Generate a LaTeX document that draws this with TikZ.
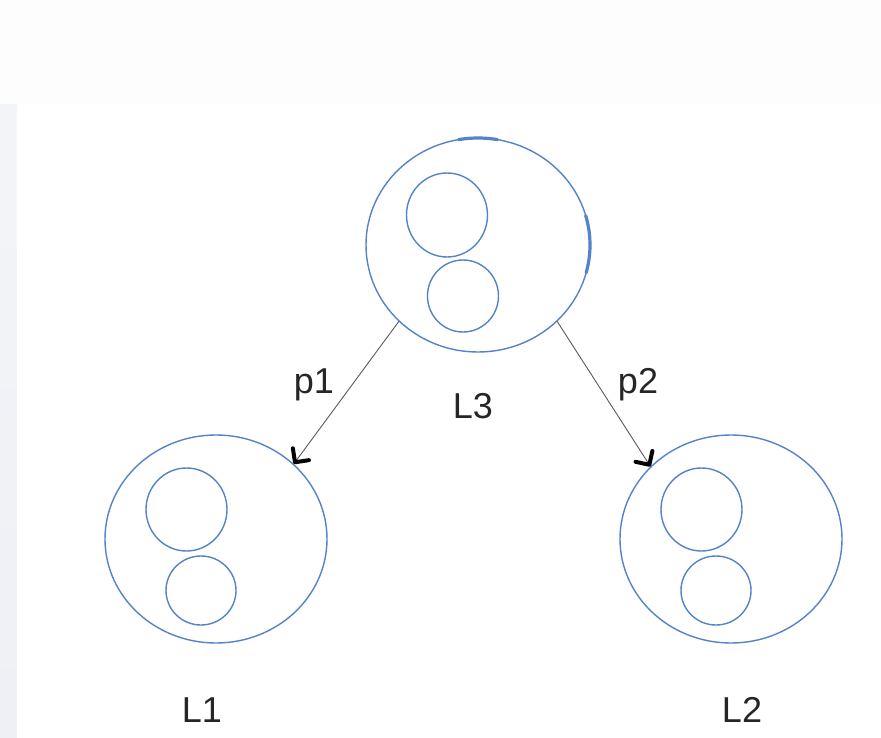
\documentclass[tikz,border=0pt]{standalone}
\usepackage{fontspec}
\setmainfont{Liberation Sans}
\usetikzlibrary{shapes.geometric,arrows.meta}
\definecolor{ringblue}{RGB}{84,132,200}
\definecolor{edgegrey}{RGB}{90,90,90}
\definecolor{sidegrey}{RGB}{238,240,245}
\definecolor{topgrey}{RGB}{253,253,254}
\tikzset{
  outer/.style={draw=ringblue, line width=1.4pt, ellipse, inner sep=0pt},
  inner/.style={draw=ringblue, line width=1.4pt, ellipse, inner sep=0pt},
  handle/.style={draw=ringblue, line width=3.2pt, line cap=round},
  link/.style={draw=edgegrey, line width=0.9pt, line cap=round,
    -{Straight Barb[color=black, length=10pt, width=20pt, line width=4pt, round]}},
  lbl/.style={font=\fontsize{36}{40}\selectfont, anchor=base, text=black!85, inner sep=0pt}
}
\begin{document}
\begin{tikzpicture}[x=1pt, y=-1pt]
  \useasboundingbox (0,0) rectangle (881,738);
  % page backdrop
  \fill[topgrey] (0,0) rectangle (881,105);
  \shade[top color=white!30!sidegrey, bottom color=sidegrey] (0,105) rectangle (17,738);
  \fill[white] (17,105) rectangle (881,738);

  % L3 group
  \node[outer, minimum width=224pt, minimum height=214pt] (L3) at (478,245) {};
  \node[inner, minimum width=81pt, minimum height=84pt] (L3a) at (447,215) {};
  \node[inner, minimum width=71pt, minimum height=72pt] (L3b) at (463,296) {};
  % thicker handle marks on the L3 ring
  \draw[handle, domain=-100:-80, smooth, variable=\t]
    plot ({478+112*cos(\t)}, {245+107*sin(\t)});
  \draw[handle, domain=-16:15, smooth, variable=\t]
    plot ({478+112*cos(\t)}, {245+107*sin(\t)});

  % L1 group
  \node[outer, minimum width=222pt, minimum height=208pt] (L1) at (216,539) {};
  \node[inner, minimum width=81pt, minimum height=83pt] (L1a) at (186.5,509.5) {};
  \node[inner, minimum width=70pt, minimum height=69pt] (L1b) at (201,590.5) {};

  % L2 group
  \node[outer, minimum width=222pt, minimum height=208pt] (L2) at (731,539) {};
  \node[inner, minimum width=81pt, minimum height=83pt] (L2a) at (701.5,509.5) {};
  \node[inner, minimum width=70pt, minimum height=69pt] (L2b) at (716,590.5) {};

  % connectors
  \draw[link] (L3.224) -- (L1.44);
  \draw[link] (L3.316) -- (L2.138);

  % labels
  \node[lbl] (tp1) at (314,393) {p1};
  \node[lbl] (tp2) at (638,393) {p2};
  \node[lbl] (tL3) at (473,418) {L3};
  \node[lbl] (tL1) at (202,722) {L1};
  \node[lbl] (tL2) at (742,722) {L2};
\end{tikzpicture}
\end{document}
